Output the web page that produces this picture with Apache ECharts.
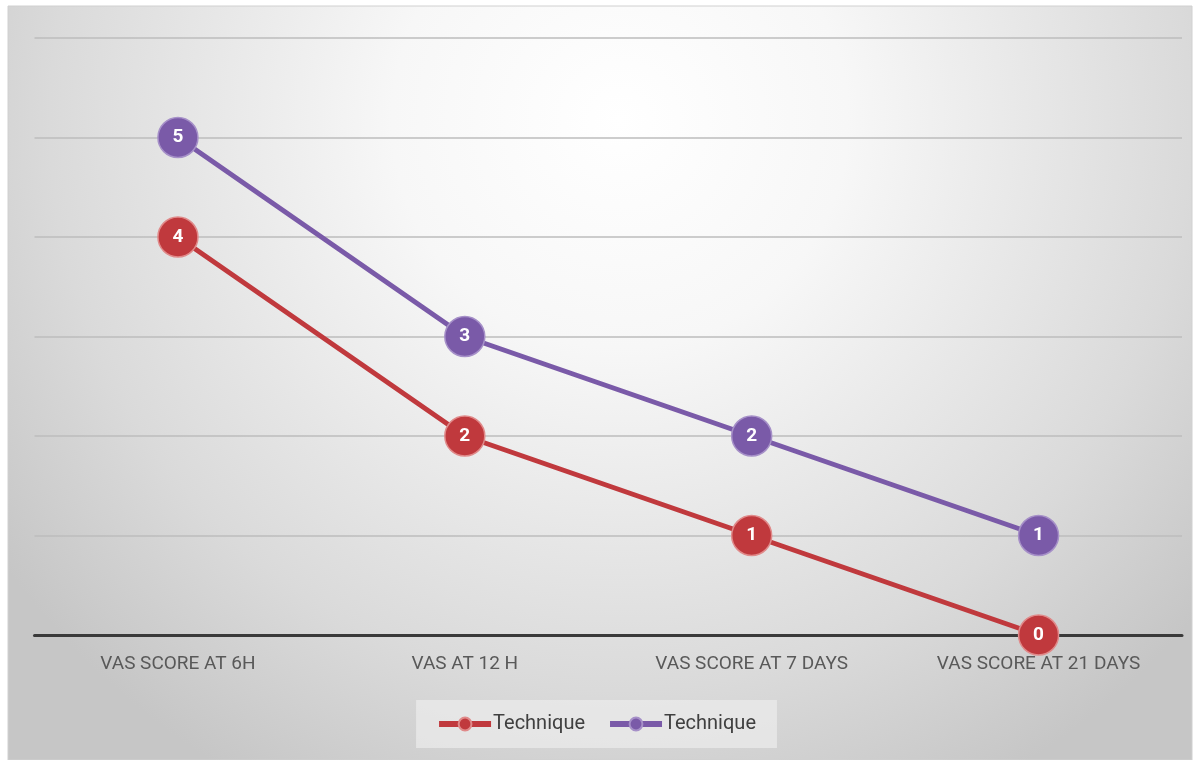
<!DOCTYPE html>
<html>
<head>
	<meta charset="utf-8">
	<title>VAS score</title>
	<script src="https://cdn.jsdelivr.net/npm/echarts@6/dist/echarts.min.js"></script>
	<style type="text/css">
		* {
			padding: 0;
			margin: 0;
		}
		body {
			background: #fff;
		}
		#chart {
			width: 1197px;
			height: 760px;
		}
	</style>
</head>
<body>
	<div id="chart"></div>
	<script type="text/javascript">
		var categories = ['VAS SCORE AT 6H', 'VAS AT 12 H', 'VAS SCORE AT 7 DAYS', 'VAS SCORE AT 21 DAYS'];
		var redValues = [4, 2, 1, 0];
		var purpleValues = [5, 3, 2, 1];
		var seriesNames = ['Technique', 'Technique '];

		var font = "Roboto, 'Liberation Sans', sans-serif";
		var red = '#c0393d';
		var purple = '#7a5aa8';

		function makeSeries(name, data, color, border) {
			return {
				name: name,
				type: 'line',
				data: data,
				symbol: 'circle',
				symbolSize: 40,
				lineStyle: { color: color, width: 5 },
				itemStyle: { color: color, borderColor: border, borderWidth: 1.5 },
				label: {
					show: true,
					position: 'inside',
					color: '#fff',
					fontFamily: font,
					fontSize: 19,
					fontWeight: 'bold'
				},
				emphasis: { disabled: true },
				animation: false
			};
		}

		var myChart = echarts.init(document.getElementById('chart'));
		myChart.setOption({
			backgroundColor: '#fff',
			graphic: [
				{
					type: 'rect',
					z: -10,
					shape: { x: 8, y: 6, width: 1184, height: 754 },
					style: {
						fill: {
							type: 'radial',
							x: 620, y: 120, r: 760,
							global: true,
							colorStops: [
								{ offset: 0, color: '#ffffff' },
								{ offset: 0.3, color: '#f7f7f7' },
								{ offset: 0.75, color: '#dadada' },
								{ offset: 1, color: '#c6c6c6' }
							]
						},
						stroke: '#d0d0d0',
						lineWidth: 1
					},
					silent: true
				}
			],
			grid: {
				left: 34.5,
				right: 15,
				top: 38,
				bottom: 125
			},
			legend: {
				bottom: 12,
				left: 'center',
				padding: [14, 16, 14, 20],
				itemGap: 22,
				itemWidth: 52,
				itemHeight: 16,
				lineStyle: { width: 6 },
				backgroundColor: 'rgba(236,236,236,0.7)',
				textStyle: { color: '#404040', fontFamily: font, fontSize: 20, padding: [0, 0, 0, -3] },
				data: seriesNames
			},
			xAxis: {
				type: 'category',
				data: categories,
				boundaryGap: true,
				axisTick: { show: false },
				axisLine: { lineStyle: { color: '#3a3a3a', width: 3 } },
				axisLabel: { color: '#595959', fontFamily: font, fontSize: 19, margin: 20, interval: 0 }
			},
			yAxis: {
				type: 'value',
				min: 0,
				max: 6,
				interval: 1,
				axisLabel: { show: false },
				axisLine: { show: false },
				axisTick: { show: false },
				splitLine: { lineStyle: { color: '#bdbdbd', width: 1.5 } }
			},
			series: [
				makeSeries(seriesNames[0], redValues, red, '#e08a8a'),
				makeSeries(seriesNames[1], purpleValues, purple, '#a690c8')
			]
		});
	</script>
</body>
</html>
